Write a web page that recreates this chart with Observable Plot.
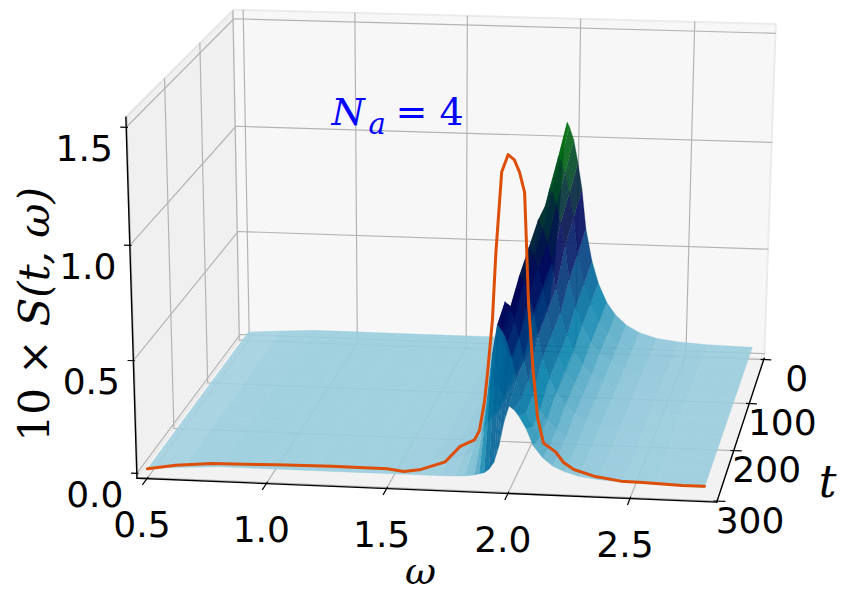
<!DOCTYPE html>
<html><head><meta charset="utf-8">
<script src="https://cdn.jsdelivr.net/npm/d3@7"></script>
<script src="https://cdn.jsdelivr.net/npm/@observablehq/plot@0.6"></script>
<style>body{margin:0;background:#fff}#chart svg{display:block}</style>
</head><body><div id="chart"></div>
<script>
// ---------------- data ----------------
const omegaGrid = [0.5, 0.65, 0.8, 1.0, 1.2, 1.4, 1.55, 1.65, 1.72, 1.78, 1.82, 1.86, 1.88, 1.90, 1.92, 1.94, 1.95, 1.96, 1.98, 2.00, 2.02, 2.04, 2.07, 2.10, 2.14, 2.18, 2.23, 2.29, 2.37, 2.47, 2.6, 2.8];
const timeGrid = [0, 40, 80, 120, 160, 200, 240, 270, 300];
const S_t0   = [0.02,0.03,0.04,0.04,0.04,0.04,0.04,0.04,0.047,0.06,0.08,0.14,0.215,0.38,0.66,1.0,1.07,1.05,0.99,0.885,0.76,0.576,0.421,0.318,0.225,0.168,0.12,0.086,0.061,0.048,0.04,0.035];
const S_t40  = [0.02,0.03,0.04,0.04,0.04,0.04,0.04,0.04,0.047,0.059,0.078,0.129,0.2,0.355,0.604,0.914,0.98,0.961,0.905,0.811,0.698,0.529,0.388,0.294,0.209,0.157,0.113,0.082,0.059,0.048,0.04,0.035];
const S_t80  = [0.02,0.03,0.04,0.04,0.04,0.04,0.04,0.04,0.046,0.057,0.074,0.122,0.186,0.328,0.556,0.84,0.90,0.883,0.831,0.745,0.642,0.487,0.358,0.272,0.195,0.147,0.107,0.079,0.057,0.047,0.04,0.035];
const S_t120 = [0.02,0.03,0.04,0.04,0.04,0.04,0.04,0.04,0.046,0.058,0.08,0.135,0.214,0.396,0.656,0.83,0.814,0.79,0.727,0.64,0.522,0.411,0.306,0.236,0.171,0.127,0.095,0.072,0.055,0.046,0.04,0.035];
const S_t160 = [0.02,0.03,0.04,0.04,0.04,0.04,0.04,0.04,0.046,0.057,0.077,0.129,0.203,0.373,0.617,0.78,0.765,0.743,0.684,0.602,0.491,0.388,0.289,0.224,0.163,0.121,0.092,0.07,0.054,0.045,0.04,0.035];
const S_t200 = [0.02,0.03,0.04,0.04,0.04,0.04,0.04,0.04,0.046,0.056,0.075,0.123,0.192,0.35,0.578,0.73,0.716,0.696,0.64,0.564,0.461,0.364,0.273,0.211,0.155,0.116,0.088,0.068,0.053,0.045,0.04,0.035];
const S_t240 = [0.02,0.03,0.04,0.04,0.04,0.04,0.04,0.042,0.047,0.06,0.086,0.183,0.333,0.547,0.69,0.658,0.638,0.606,0.534,0.437,0.346,0.281,0.216,0.17,0.13,0.101,0.079,0.062,0.05,0.044,0.04,0.035];
const S_t270 = [0.02,0.03,0.04,0.04,0.04,0.04,0.04,0.042,0.046,0.058,0.083,0.174,0.315,0.516,0.65,0.62,0.601,0.571,0.504,0.412,0.327,0.266,0.205,0.162,0.124,0.097,0.077,0.061,0.05,0.044,0.04,0.035];
const S_t300 = [0.02,0.03,0.04,0.04,0.04,0.04,0.04,0.04,0.04,0.042,0.044,0.05,0.056,0.062,0.078,0.11,0.147,0.184,0.29,0.36,0.344,0.318,0.264,0.19,0.137,0.104,0.08,0.062,0.051,0.044,0.04,0.035];

// orange curve, drawn on the t = 300 plane
const lineOmega = [0.5,0.62,0.77,1.04,1.27,1.5,1.57,1.64,1.74,1.8,1.83,1.86,1.88,1.9,1.913,1.93,1.942,1.963,1.988,2.013,2.034,2.055,2.063,2.075,2.096,2.117,2.142,2.171,2.192,2.225,2.267,2.35,2.46,2.55,2.71,2.8];
const lineValue = [0.018,0.039,0.053,0.059,0.063,0.062,0.053,0.065,0.103,0.173,0.19,0.205,0.248,0.377,0.518,0.731,1.016,1.358,1.431,1.41,1.36,1.276,1.093,0.809,0.525,0.312,0.203,0.182,0.166,0.121,0.092,0.066,0.049,0.047,0.041,0.041];
const lineTime = 300;

const omegaTicks = [0.5, 1.0, 1.5, 2.0, 2.5];
const timeTicks = [0, 100, 200, 300];
const zTicks = [0.0, 0.5, 1.0, 1.5];

// ---------------- layout / camera ----------------
const lim = {w0: 0.458, w1: 2.853, t0: 302, t1: -3, z0: -0.022, z1: 1.542};
// unit-box corners (a: omega, b: depth, c: height) -> pixel, used to fit the perspective camera
const cameraFit = [
  [[0,0,0],[138,481]], [[1,0,0],[714,502]], [[1,1,0],[765,357]], [[0,1,0],[239,336]],
  [[0,0,1],[126,113]], [[0,1,1],[232,12]], [[1,1,1],[776,24]]
];
const CX = 422, CY = 296, CS = 422;

function solveCamera(pairs) {
  const A = [], B = [];
  for (const [[X,Y,Z],[u0,v0]] of pairs) {
    const u = (u0 - CX) / CS, v = (v0 - CY) / CS;
    A.push([X,Y,Z,1,0,0,0,0,-u*X,-u*Y,-u*Z]); B.push(u);
    A.push([0,0,0,0,X,Y,Z,1,-v*X,-v*Y,-v*Z]); B.push(v);
  }
  const n = 11, M = Array.from({length: n}, () => new Array(n + 1).fill(0));
  for (let r = 0; r < A.length; r++) for (let i = 0; i < n; i++) {
    for (let j = 0; j < n; j++) M[i][j] += A[r][i] * A[r][j];
    M[i][n] += A[r][i] * B[r];
  }
  for (let i = 0; i < n; i++) {
    let p = i;
    for (let k = i + 1; k < n; k++) if (Math.abs(M[k][i]) > Math.abs(M[p][i])) p = k;
    [M[i], M[p]] = [M[p], M[i]];
    for (let k = 0; k < n; k++) {
      if (k === i) continue;
      const f = M[k][i] / M[i][i];
      for (let j = i; j <= n; j++) M[k][j] -= f * M[i][j];
    }
  }
  return M.map((row, i) => row[n] / row[i]);
}
const P = solveCamera(cameraFit);
function projUnit(a, b, c) {
  const w = P[8]*a + P[9]*b + P[10]*c + 1;
  return {x: CX + CS * (P[0]*a + P[1]*b + P[2]*c + P[3]) / w,
          y: CY + CS * (P[4]*a + P[5]*b + P[6]*c + P[7]) / w, w};
}
const unit = (om, t, z) => [(om - lim.w0)/(lim.w1 - lim.w0), (lim.t0 - t)/(lim.t0 - lim.t1), (z - lim.z0)/(lim.z1 - lim.z0)];
const proj = (om, t, z) => projUnit(...unit(om, t, z));
const depthSign = projUnit(0.5,1,0.5).w > projUnit(0.5,0,0.5).w ? 1 : -1;

// ---------------- surface facets ----------------
const rows = [S_t0, S_t40, S_t80, S_t120, S_t160, S_t200, S_t240, S_t270, S_t300];
const facets = [];
for (let i = 0; i < timeGrid.length - 1; i++) for (let j = 0; j < omegaGrid.length - 1; j++) {
  const cs = [[j,i],[j+1,i],[j+1,i+1],[j,i+1]];
  const pts = cs.map(([jj, ii]) => proj(omegaGrid[jj], timeGrid[ii], rows[ii][jj]));
  const v = d3.mean(cs, ([jj, ii]) => rows[ii][jj]);
  facets.push({pts, v, d: depthSign * d3.mean(pts, p => p.w)});
}
facets.sort((a, b) => b.d - a.d);
const surfVerts = facets.flatMap((f, k) => f.pts.map(p => ({x: p.x, y: p.y, q: k, v: f.v})));

// ---------------- panes, grid, axes ----------------
const paneLeft  = [[0,0,0],[0,1,0],[0,1,1],[0,0,1]].map(c => projUnit(...c));
const paneBack  = [[0,1,0],[1,1,0],[1,1,1],[0,1,1]].map(c => projUnit(...c));
const paneFloor = [[0,0,0],[1,0,0],[1,1,0],[0,1,0]].map(c => projUnit(...c));

const grid = [];
omegaTicks.forEach((o, k) => [[o,lim.t0,lim.z0],[o,lim.t1,lim.z0],[o,lim.t1,lim.z1]].forEach(p => grid.push({...proj(...p), g: "w" + k})));
timeTicks.forEach((t, k) => [[lim.w1,t,lim.z0],[lim.w0,t,lim.z0],[lim.w0,t,lim.z1]].forEach(p => grid.push({...proj(...p), g: "t" + k})));
zTicks.forEach((z, k) => [[lim.w0,lim.t0,z],[lim.w0,lim.t1,z],[lim.w1,lim.t1,z]].forEach(p => grid.push({...proj(...p), g: "z" + k})));

const axes = [];
[[[0,0,0],[1,0,0]], [[1,0,0],[1,1,0]], [[0,0,0],[0,0,1]]].forEach((seg, k) => seg.forEach(c => axes.push({...projUnit(...c), g: k})));

const ticks = [];
const labels = [];
omegaTicks.forEach(o => {
  const [a] = unit(o, 0, 0);
  const p1 = projUnit(a, 0.012, 0), p2 = projUnit(a, -0.04, 0);
  ticks.push({x1: p1.x, y1: p1.y, x2: p2.x, y2: p2.y});
  const p = projUnit(a, 0, 0);
  labels.push({x: p.x - 5, y: p.y + 47, text: o.toFixed(1)});
});
timeTicks.forEach(t => {
  const b = unit(0, t, 0)[1];
  const p1 = projUnit(0.994, b, 0), p2 = projUnit(1.014, b, 0);
  ticks.push({x1: p1.x, y1: p1.y, x2: p2.x, y2: p2.y});
  const p = projUnit(1, b, 0);
  labels.push({x: p.x + 33, y: p.y + 20, text: String(t)});
});
zTicks.forEach(z => {
  const c = unit(0, 0, z)[2];
  const p1 = projUnit(0.003, 0, c), p2 = projUnit(-0.01, 0, c);
  ticks.push({x1: p1.x, y1: p1.y, x2: p2.x, y2: p2.y});
  const p = projUnit(0, 0, c);
  labels.push({x: p.x - 42, y: p.y + 22, text: z.toFixed(1)});
});

const orange = lineOmega.map((o, k) => proj(o, lineTime, lineValue[k]));

function oceanR(u) {
  const x = 1 - Math.max(0, Math.min(1, u));
  const r = Math.max(0, 3*x - 2), g = Math.min(1, Math.abs((3*x - 1)/2)), b = x;
  return d3.rgb(255*r, 255*g, 255*b).formatHex();
}

const serif = "DejaVu Serif";
const chart = Plot.plot({
  width: 844, height: 593, margin: 0,
  x: {type: "identity", axis: null},
  y: {type: "identity", axis: null},
  color: {type: "linear", domain: [-0.12, 1.07], interpolate: oceanR},
  marks: [
    Plot.line(paneLeft,  {x: "x", y: "y", fill: "#f0f0f0", stroke: "#e4e4e4", strokeWidth: 2}),
    Plot.line(paneBack,  {x: "x", y: "y", fill: "#f7f7f7", stroke: "#ebebeb", strokeWidth: 2}),
    Plot.line(paneFloor, {x: "x", y: "y", fill: "#f2f2f2", stroke: "#ebebeb", strokeWidth: 1}),
    Plot.line(grid, {x: "x", y: "y", z: "g", stroke: "#b4b4b4", strokeWidth: 1.2}),
    Plot.line(axes, {x: "x", y: "y", z: "g", stroke: "black", strokeWidth: 1.4}),
    Plot.link(ticks, {x1: "x1", y1: "y1", x2: "x2", y2: "y2", stroke: "black", strokeWidth: 1.2}),
    Plot.line(surfVerts, {x: "x", y: "y", z: "q", fill: "v", stroke: "v", fillOpacity: 0.9, strokeOpacity: 0.6, strokeWidth: 0.5}),
    Plot.line(orange, {x: "x", y: "y", stroke: "#dd4e08", strokeWidth: 3}),
    Plot.text(labels, {x: "x", y: "y", text: "text", fontFamily: "DejaVu Sans", fontSize: 36, fill: "black"}),
    Plot.text([{x: 420, y: 571, s: "ω"}], {x: "x", y: "y", text: "s", fontFamily: serif, fontStyle: "italic", fontSize: 38, fill: "black"}),
    Plot.text([{x: 827, y: 482, s: "t"}], {x: "x", y: "y", text: "s", fontFamily: serif, fontStyle: "italic", fontSize: 44, fill: "black"}),
    Plot.text([{x: 35, y: 441, s: "10 × "}], {x: "x", y: "y", text: "s", rotate: -90, textAnchor: "start", fontFamily: serif, fontSize: 42, fill: "black"}),
    Plot.text([{x: 35, y: 326, s: "S(t, ω)"}], {x: "x", y: "y", text: "s", rotate: -90, textAnchor: "start", fontFamily: serif, fontStyle: "italic", fontSize: 42, fill: "black"}),
    Plot.text([{x: 331, y: 112, s: "N"}], {x: "x", y: "y", text: "s", textAnchor: "start", fontFamily: serif, fontStyle: "italic", fontSize: 38, fill: "#0000ff"}),
    Plot.text([{x: 368, y: 124, s: "a"}], {x: "x", y: "y", text: "s", textAnchor: "start", fontFamily: serif, fontStyle: "italic", fontSize: 29, fill: "#0000ff"}),
    Plot.text([{x: 395, y: 112, s: "= 4"}], {x: "x", y: "y", text: "s", textAnchor: "start", fontFamily: serif, fontSize: 38, fill: "#0000ff"})
  ]
});
document.getElementById("chart").appendChild(chart);
</script>
</body></html>
